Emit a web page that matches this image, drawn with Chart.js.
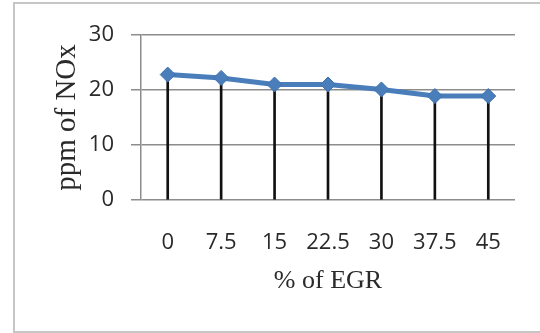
<!DOCTYPE html>
<html>
<head>
<meta charset="utf-8">
<script src="https://cdn.jsdelivr.net/npm/chart.js@4/dist/chart.umd.min.js"></script>
<style>
  html, body { margin: 0; padding: 0; background: #fff; }
  #wrap { position: relative; width: 540px; height: 333px; overflow: hidden; }
  #frame { position: absolute; left: 13px; top: 2px; width: 600px; height: 327px;
           border: 2px solid #c6c6c6; box-sizing: content-box; }
  canvas { position: absolute; left: 0; top: 0; }
</style>
</head>
<body>
<div id="wrap">
  <div id="frame"></div>
  <canvas id="c" width="540" height="333"></canvas>
</div>
<script>
const categories = ['0', '7.5', '15', '22.5', '30', '37.5', '45'];
const noxValues = [22.8, 22.2, 21, 21, 20.1, 18.9, 18.9];
const yTicks = [0, 10, 20, 30];
const xTitle = '% of EGR';
const yTitle = 'ppm of NOx';

new Chart(document.getElementById('c'), {
  data: {
    labels: categories,
    datasets: [
      {
        type: 'line',
        data: noxValues,
        borderColor: '#4a7ebb',
        borderWidth: 5,
        pointStyle: 'rectRot',
        pointRadius: 7.5,
        pointBackgroundColor: '#4a7ebb',
        pointBorderColor: '#3f71ad',
        pointBorderWidth: 1,
        tension: 0,
        order: 0
      },
      {
        type: 'bar',
        data: noxValues,
        backgroundColor: '#111',
        barThickness: 2,
        order: 1
      }
    ]
  },
  options: {
    responsive: false,
    animation: false,
    events: [],
    layout: { padding: { left: 50, right: 25, top: 35, bottom: 36 } },
    plugins: { legend: { display: false }, tooltip: { enabled: false } },
    scales: {
      x: {
        type: 'category',
        offset: true,
        grid: { display: false },
        border: { display: false },
        ticks: { color: '#2a2a2a', padding: 22, font: { family: 'Open Sans', size: 22 } },
        title: { display: true, text: xTitle, color: '#2a2a2a', padding: 0,
                 font: { family: 'Liberation Serif', size: 26 } },
        afterFit: s => { s.height = 97; }
      },
      y: {
        min: 0, max: 30,
        afterBuildTicks: s => { s.ticks = yTicks.map(v => ({ value: v })); },
        grid: { color: '#8c8c8c', lineWidth: 1.5, tickLength: 10 },
        border: { color: '#8c8c8c', width: 1.5 },
        ticks: { color: '#2a2a2a', padding: 17, font: { family: 'Open Sans', size: 22 } },
        title: { display: true, text: yTitle, color: '#2a2a2a', padding: 0,
                 font: { family: 'Liberation Serif', size: 29 } },
        afterFit: s => { s.width = 91; }
      }
    }
  }
});
</script>
</body>
</html>
